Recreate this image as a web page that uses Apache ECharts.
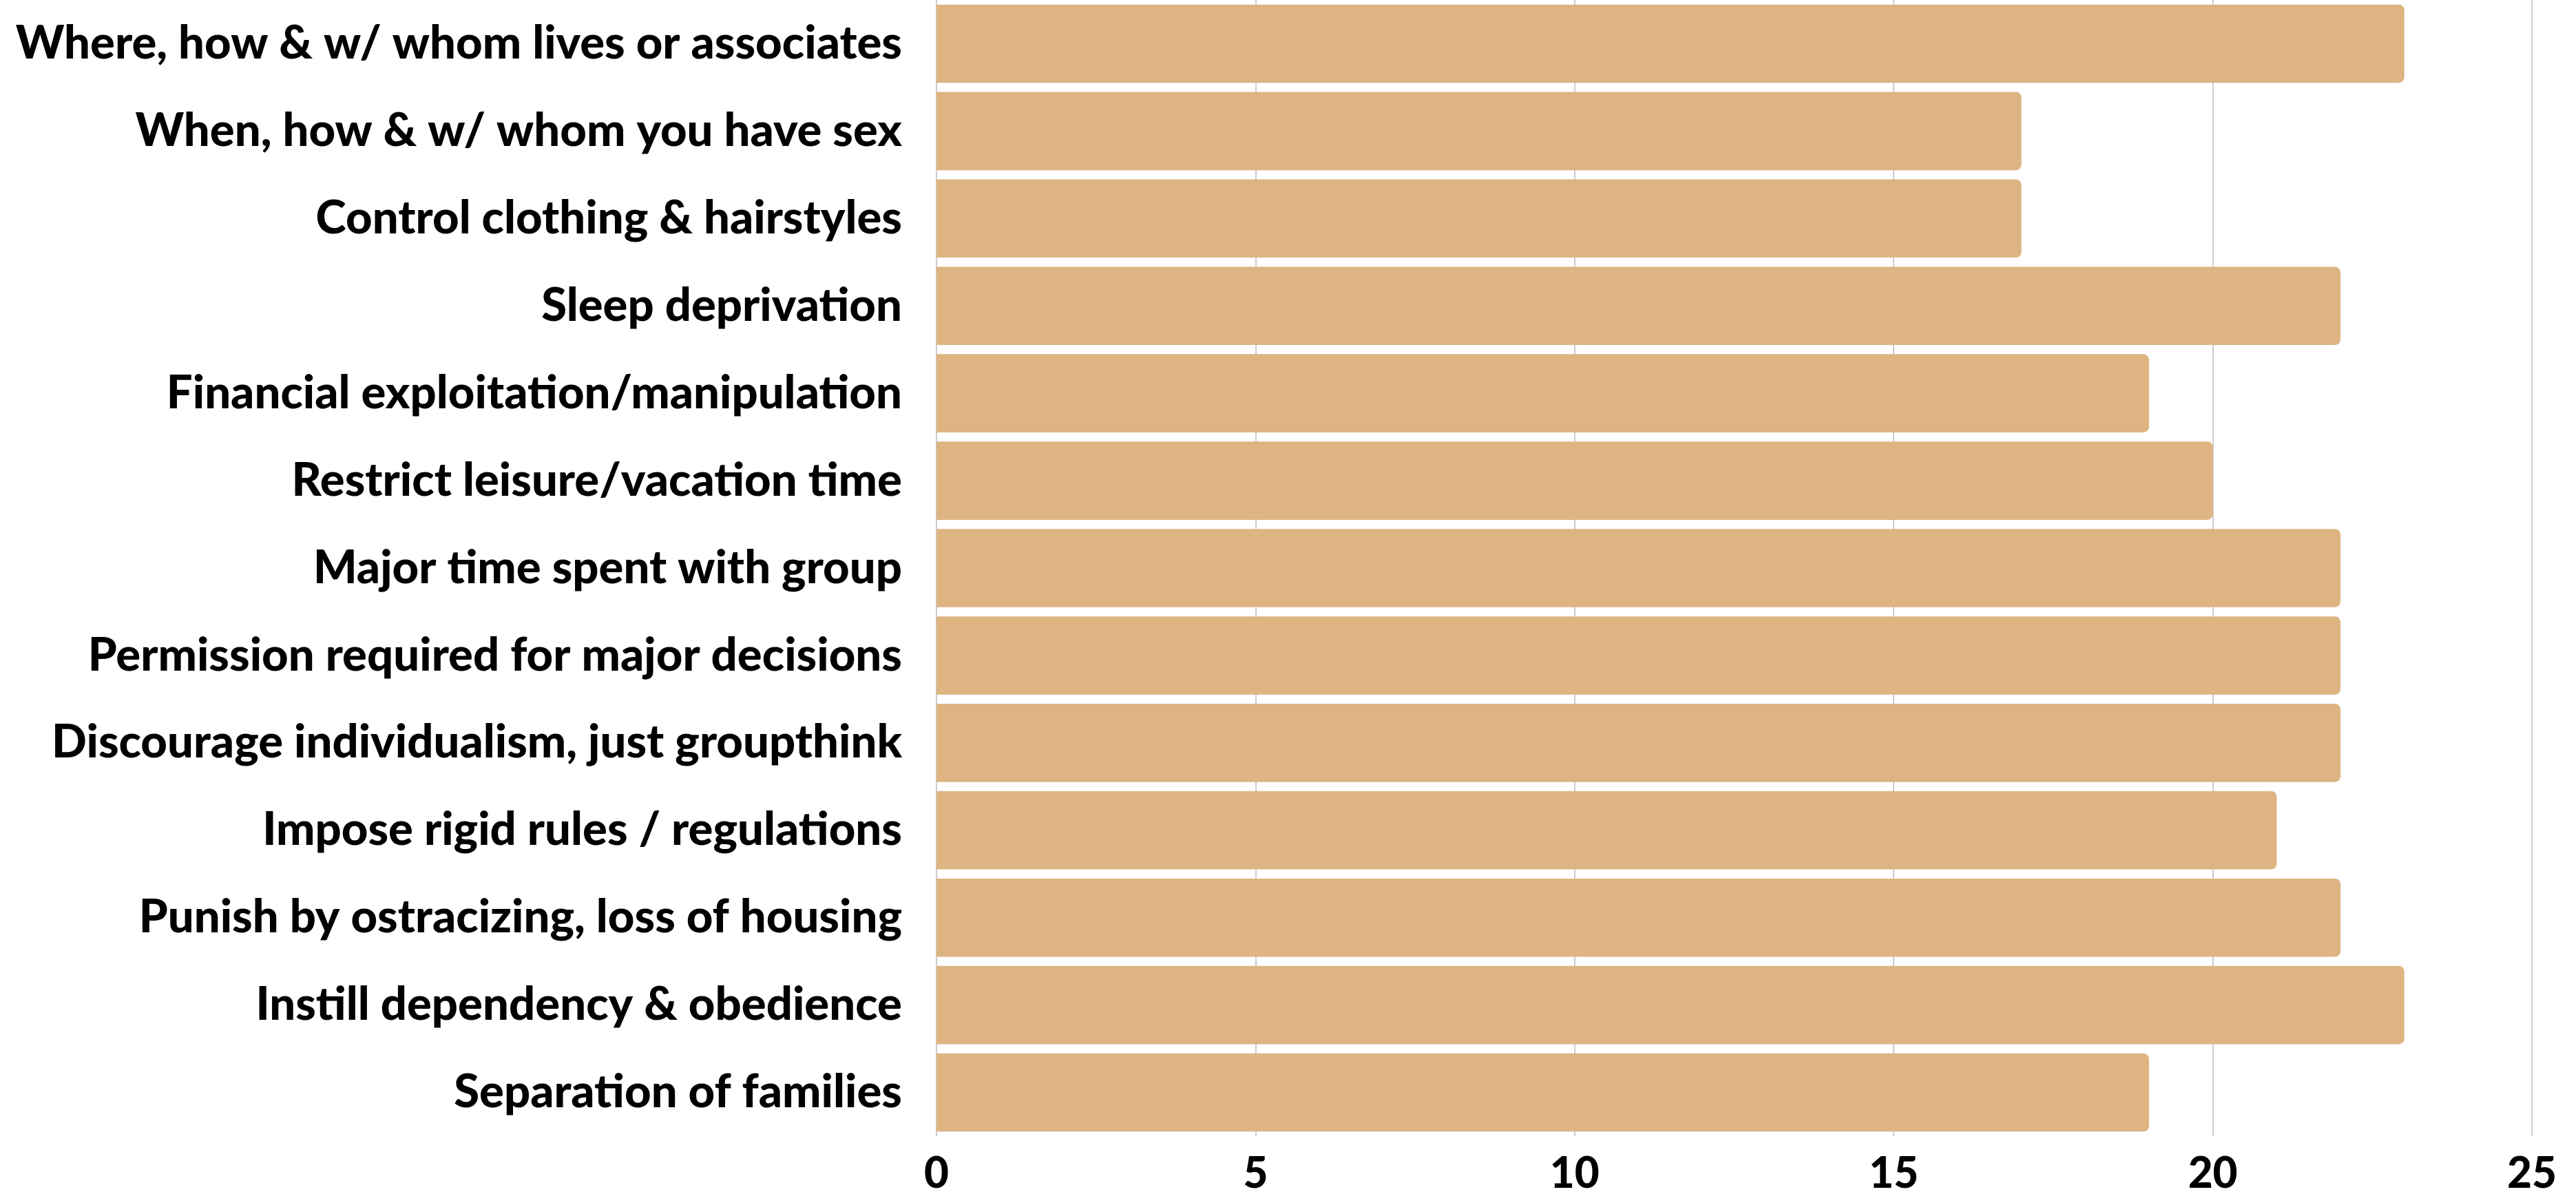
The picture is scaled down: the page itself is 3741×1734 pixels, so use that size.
<!DOCTYPE html>
<html><head><meta charset="utf-8">
<script src="https://cdn.jsdelivr.net/npm/echarts@6/dist/echarts.min.js"></script>
<style>html,body{margin:0;padding:0;background:#fff}#c{width:3741px;height:1734px}</style>
</head><body><div id="c"></div>
<script>
const categories = [
  "Where, how & w/ whom lives or associates",
  "When, how & w/ whom you have sex",
  "Control clothing & hairstyles",
  "Sleep deprivation",
  "Financial exploitation/manipulation",
  "Restrict leisure/vacation time",
  "Major time spent with group",
  "Permission required for major decisions",
  "Discourage individualism, just groupthink",
  "Impose rigid rules / regulations",
  "Punish by ostracizing, loss of housing",
  "Instill dependency & obedience",
  "Separation of families"
];
const values = [23, 17, 17, 22, 19, 20, 22, 22, 22, 21, 22, 23, 19];
const xTicks = [0, 5, 10, 15, 20, 25];

const chart = echarts.init(document.getElementById('c'), null, {renderer: 'canvas'});
chart.setOption({
  animation: false,
  grid: {left: 1360, right: 64, top: 0, bottom: 84, containLabel: false, outerBoundsMode: 'none'},
  xAxis: {
    type: 'value', min: xTicks[0], max: xTicks[xTicks.length - 1], interval: 5,
    axisLine: {show: false}, axisTick: {show: false},
    splitLine: {show: true, lineStyle: {color: '#cccccc', width: 2}},
    axisLabel: {color: '#000', fontFamily: 'Lato', fontWeight: 900, fontSize: 62, margin: 24}
  },
  yAxis: {
    type: 'category', data: categories, inverse: true,
    axisLine: {show: false}, axisTick: {show: false},
    axisLabel: {color: '#000', fontFamily: 'Lato', fontWeight: 900, fontSize: 67, margin: 50,
                padding: [0, 0, 10, 0]}
  },
  series: [{
    type: 'bar', data: values, barCategoryGap: '10.5%',
    itemStyle: {color: '#DDB482', borderRadius: [0, 8, 8, 0]}
  }]
});
</script></body></html>
